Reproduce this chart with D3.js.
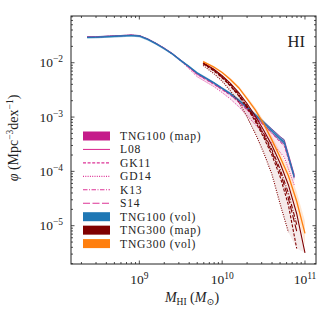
<!DOCTYPE html>
<html>
<head>
<meta charset="utf-8">
<script src="https://cdn.jsdelivr.net/npm/d3@7"></script>
<style>
  body { margin: 0; background: #fff; }
  svg text { font-family: "Liberation Serif", "DejaVu Serif", serif; fill: #222; }
</style>
</head>
<body>
<div id="chart"></div>
<script>
// log10 of HI mass, log10 of phi
const m100 = [8.37, 8.5, 8.7, 8.9, 9.0, 9.1, 9.2, 9.3, 9.4, 9.5, 9.6, 9.7, 9.8, 9.9, 10.0, 10.1, 10.2, 10.3, 10.4, 10.5, 10.6, 10.7, 10.75, 10.87];
const vol100 = [-1.535, -1.53, -1.515, -1.50, -1.51, -1.57, -1.65, -1.74, -1.84, -1.96, -2.07, -2.19, -2.28, -2.37, -2.47, -2.57, -2.69, -2.82, -2.96, -3.10, -3.25, -3.40, -3.46, -4.10];
const vol100Err = [0.02, 0.02, 0.02, 0.02, 0.02, 0.02, 0.02, 0.02, 0.02, 0.02, 0.02, 0.02, 0.02, 0.02, 0.02, 0.025, 0.025, 0.03, 0.03, 0.035, 0.04, 0.045, 0.05, 0.06];
const l08_100 = [-1.525, -1.52, -1.505, -1.49, -1.50, -1.56, -1.64, -1.73, -1.83, -1.95, -2.07, -2.20, -2.28, -2.37, -2.47, -2.57, -2.69, -2.82, -2.96, -3.09, -3.22, -3.36, -3.42, -4.06];
const gk11_100 = [-1.53, -1.525, -1.51, -1.495, -1.505, -1.565, -1.645, -1.735, -1.84, -1.96, -2.09, -2.22, -2.31, -2.40, -2.50, -2.60, -2.73, -2.87, -3.01, -3.15, -3.30, -3.46, -3.53, -4.12];
const gd14_100 = [-1.53, -1.525, -1.51, -1.495, -1.505, -1.565, -1.65, -1.74, -1.85, -1.97, -2.11, -2.26, -2.35, -2.44, -2.55, -2.67, -2.81, -2.97, -3.14, -3.30, -3.48, -3.65, -3.74, -4.25];
const k13_100 = [-1.527, -1.522, -1.507, -1.492, -1.502, -1.562, -1.642, -1.732, -1.835, -1.955, -2.08, -2.21, -2.29, -2.385, -2.485, -2.585, -2.71, -2.845, -2.985, -3.12, -3.26, -3.41, -3.47, -4.08];
const s14_100 = [-1.53, -1.525, -1.51, -1.495, -1.505, -1.565, -1.645, -1.735, -1.84, -1.96, -2.085, -2.215, -2.30, -2.39, -2.49, -2.59, -2.72, -2.86, -3.00, -3.14, -3.29, -3.44, -3.50, -4.10];

const m300 = [9.77, 9.9, 10.0, 10.1, 10.2, 10.3, 10.4, 10.5, 10.6, 10.7, 10.8, 10.9, 11.0];
const vol300 = [-1.98, -2.08, -2.18, -2.31, -2.46, -2.66, -2.87, -3.12, -3.42, -3.74, -4.08, -4.55, -5.14];
const vol300Err = [0.02, 0.02, 0.02, 0.03, 0.03, 0.04, 0.05, 0.06, 0.08, 0.10, 0.13, 0.17, 0.22];
const l08_300 = [-2.00, -2.12, -2.24, -2.38, -2.55, -2.75, -2.98, -3.24, -3.52, -3.85, -4.25, -4.78, -5.50];
const gk11_300 = [-2.02, -2.15, -2.28, -2.43, -2.61, -2.83, -3.08, -3.37, -3.70, -4.10, -4.62, -5.42, null];
const gd14_300 = [-2.05, -2.20, -2.34, -2.52, -2.72, -3.00, -3.30, -3.65, -4.05, -4.60, -5.12, null, null];
const k13_300 = [-2.01, -2.13, -2.26, -2.40, -2.58, -2.79, -3.03, -3.30, -3.60, -3.96, -4.40, -4.98, null];
const s14_300 = [-2.01, -2.14, -2.27, -2.42, -2.60, -2.81, -3.05, -3.33, -3.64, -4.02, -4.50, -5.10, null];

const models = ["L08", "GK11", "GD14", "K13", "S14"];
const dashes = { L08: null, GK11: "3,1.6", GD14: "1,1.3", K13: "4.5,1.5,1,1.5", S14: "7,2.5" };
const legendLabels = ["TNG100 (map)", "L08", "GK11", "GD14", "K13", "S14", "TNG100 (vol)", "TNG300 (map)", "TNG300 (vol)"];

const col = { map100: "#c51b8a", line100: "#dd3497", vol100: "#1f77b4", map300: "#800000", vol300: "#ff7f0e" };

const W = 335, H = 314;
const mLeft = 71, mRight = 316, mTop = 16, mBottom = 264;

const svg = d3.select("#chart").append("svg").attr("width", W).attr("height", H);

const x = d3.scaleLog().domain([Math.pow(10, 8.175), Math.pow(10, 11.133)]).range([mLeft, mRight]);
const y = d3.scaleLog().domain([Math.pow(10, -5.705), Math.pow(10, -1.14)]).range([mBottom, mTop]);

const p = v => Math.pow(10, v);

svg.append("clipPath").attr("id", "clip").append("rect")
  .attr("x", mLeft).attr("y", mTop).attr("width", mRight - mLeft).attr("height", mBottom - mTop);
const plot = svg.append("g").attr("clip-path", "url(#clip)");

function lineOf(ms, vs) {
  const pts = ms.map((m, i) => [m, vs[i]]);
  return d3.line().defined(d => d[1] !== null).x(d => x(p(d[0]))).y(d => y(p(d[1])))(pts);
}
function bandOf(ms, lo, hi) {
  const pts = ms.map((m, i) => [m, lo[i], hi[i]]).filter(d => d[1] !== null);
  return d3.area().x(d => x(p(d[0]))).y0(d => y(p(d[1]))).y1(d => y(p(d[2])))(pts);
}
function spread(ms, sets, f) {
  return ms.map((m, i) => {
    const v = sets.map(s => s[i]).filter(t => t !== null);
    return v.length ? f(v) : null;
  });
}

// TNG100 map band + models
const sets100 = [l08_100, gk11_100, gd14_100, k13_100, s14_100];
plot.append("path").attr("d", bandOf(m100, spread(m100, sets100, d3.min), spread(m100, sets100, d3.max)))
  .attr("fill", col.map100).attr("opacity", 0.1);
sets100.forEach((s, i) => {
  plot.append("path").attr("d", lineOf(m100, s)).attr("fill", "none")
    .attr("stroke", col.line100).attr("stroke-width", 1)
    .attr("stroke-dasharray", dashes[models[i]]);
});

// TNG100 vol
plot.append("path").attr("d", bandOf(m100, vol100.map((v, i) => v - vol100Err[i]), vol100.map((v, i) => v + vol100Err[i])))
  .attr("fill", col.vol100).attr("opacity", 0.6);
plot.append("path").attr("d", lineOf(m100, vol100)).attr("fill", "none")
  .attr("stroke", col.vol100).attr("stroke-width", 1.1);

// TNG300 vol band
plot.append("path").attr("d", bandOf(m300, vol300.map((v, i) => v - vol300Err[i]), vol300.map((v, i) => v + vol300Err[i])))
  .attr("fill", col.vol300).attr("opacity", 0.18);

// TNG300 map band + models
const sets300 = [l08_300, gk11_300, gd14_300, k13_300, s14_300];
plot.append("path").attr("d", bandOf(m300, spread(m300, sets300, d3.min), spread(m300, sets300, d3.max)))
  .attr("fill", col.map300).attr("opacity", 0.08);
sets300.forEach((s, i) => {
  plot.append("path").attr("d", lineOf(m300, s)).attr("fill", "none")
    .attr("stroke", col.map300).attr("stroke-width", 1.1)
    .attr("stroke-dasharray", dashes[models[i]]);
});

// TNG300 vol line
plot.append("path").attr("d", lineOf(m300, vol300)).attr("fill", "none")
  .attr("stroke", col.vol300).attr("stroke-width", 1.3);

// frame
svg.append("rect").attr("x", mLeft).attr("y", mTop).attr("width", mRight - mLeft).attr("height", mBottom - mTop)
  .attr("fill", "none").attr("stroke", "#222").attr("stroke-width", 1);

// ticks, inward on all sides
const ticks = svg.append("g").attr("stroke", "#222").attr("stroke-width", 0.8);
const xMajor = [9, 10, 11], yMajor = [-5, -4, -3, -2];
for (let e = 8; e <= 11; e++) {
  for (let k = 1; k <= 9; k++) {
    const v = k * Math.pow(10, e);
    if (v < x.domain()[0] || v > x.domain()[1]) continue;
    const len = k === 1 ? 3.5 : 2;
    const xx = x(v);
    ticks.append("line").attr("x1", xx).attr("x2", xx).attr("y1", mBottom).attr("y2", mBottom - len);
    ticks.append("line").attr("x1", xx).attr("x2", xx).attr("y1", mTop).attr("y2", mTop + len);
  }
}
for (let e = -6; e <= -2; e++) {
  for (let k = 1; k <= 9; k++) {
    const v = k * Math.pow(10, e);
    if (v < y.domain()[0] || v > y.domain()[1]) continue;
    const len = k === 1 ? 3.5 : 2;
    const yy = y(v);
    ticks.append("line").attr("x1", mLeft).attr("x2", mLeft + len).attr("y1", yy).attr("y2", yy);
    ticks.append("line").attr("x1", mRight).attr("x2", mRight - len).attr("y1", yy).attr("y2", yy);
  }
}

// tick labels
xMajor.forEach(e => {
  const t = svg.append("text").attr("x", x(Math.pow(10, e))).attr("y", 284)
    .attr("text-anchor", "middle").attr("font-size", 13.5);
  t.append("tspan").text("10");
  t.append("tspan").attr("dy", -5).attr("font-size", 9.5).text(e);
});
yMajor.forEach(e => {
  const t = svg.append("text").attr("x", 63).attr("y", y(Math.pow(10, e)) + 4.5)
    .attr("text-anchor", "end").attr("font-size", 13.5);
  t.append("tspan").text("10");
  t.append("tspan").attr("dy", -5).attr("font-size", 9.5).text("−" + Math.abs(e));
});

// axis labels
const xl = svg.append("text").attr("x", 192).attr("y", 302).attr("text-anchor", "middle").attr("font-size", 14);
xl.append("tspan").attr("font-style", "italic").text("M");
xl.append("tspan").attr("font-size", 9.5).attr("dy", 3).text("HI");
xl.append("tspan").attr("dy", -3).text(" (");
xl.append("tspan").attr("font-style", "italic").text("M");
xl.append("tspan").attr("font-size", 9.5).attr("dy", 3).text("⊙");
xl.append("tspan").attr("dy", -3).text(")");

const yl = svg.append("text").attr("transform", "translate(18,138) rotate(-90)")
  .attr("text-anchor", "middle").attr("font-size", 14);
yl.append("tspan").attr("font-style", "italic").text("φ");
yl.append("tspan").text(" (Mpc");
yl.append("tspan").attr("font-size", 9.5).attr("dy", -5).text("−3");
yl.append("tspan").attr("dy", 5).text("dex");
yl.append("tspan").attr("font-size", 9.5).attr("dy", -5).text("−1");
yl.append("tspan").attr("dy", 5).text(")");

svg.append("text").attr("x", 305).attr("y", 47).attr("text-anchor", "end").attr("font-size", 16.5).text("HI");

// legend
const legColors = [col.map100, col.line100, col.line100, col.line100, col.line100, col.line100, col.vol100, col.map300, col.vol300];
const leg = svg.append("g");
legendLabels.forEach((lab, i) => {
  const cy = 136 + i * 13.45;
  if (i >= 1 && i <= 5) {
    leg.append("line").attr("x1", 83).attr("x2", 110).attr("y1", cy).attr("y2", cy)
      .attr("stroke", legColors[i]).attr("stroke-width", 1.1)
      .attr("stroke-dasharray", dashes[models[i - 1]]);
  } else {
    leg.append("rect").attr("x", 83).attr("y", cy - 4.5).attr("width", 27).attr("height", 9)
      .attr("fill", legColors[i]);
  }
  leg.append("text").attr("x", 120).attr("y", cy + 4).attr("font-size", 11.6)
    .attr("letter-spacing", 0.8).text(lab);
});
</script>
</body>
</html>
